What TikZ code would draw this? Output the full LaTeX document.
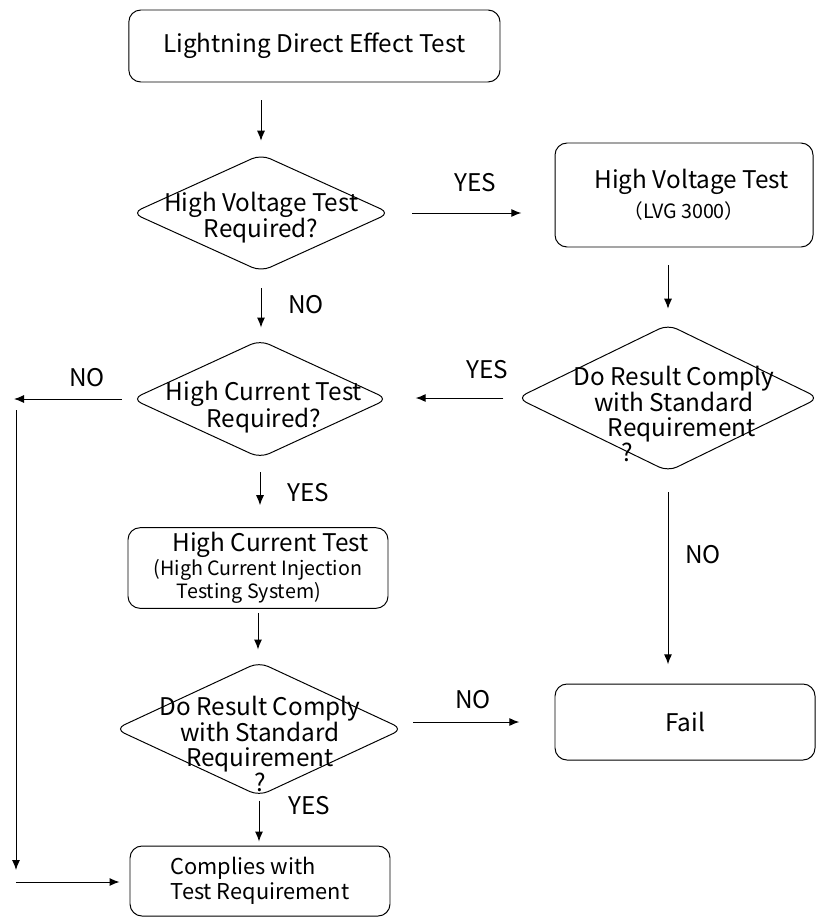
\documentclass[tikz,border=0pt]{standalone}
\usepackage{fontspec}
\newfontfamily\cjk{Noto Sans CJK SC}
\usetikzlibrary{shapes.geometric,arrows.meta,calc}
\newcommand{\bigtxt}{\cjk\fontsize{17.3}{17.7}\selectfont}
\newcommand{\midtxt}{\cjk\fontsize{15.5}{17.7}\selectfont}
\newcommand{\smalltxt}{\cjk\fontsize{14}{14}\selectfont}

\begin{document}
\begin{tikzpicture}[
    box/.style={draw, line width=0.7pt, rounded corners=0.3cm, minimum width=6.5cm, minimum height=1.8cm, align=center, font=\bigtxt},
    decision/.style={draw, diamond, line width=0.7pt, rounded corners=0.25cm, inner sep=0pt},
    dtext/.style={align=center, font=\bigtxt, inner sep=0pt},
    flow/.style={line width=0.7pt, -{Latex[length=2.5mm,width=2mm]}},
    lbl/.style={font=\bigtxt}
]
        \useasboundingbox (0,0) rectangle (20.45,-22.95);

        % boxes
        \node[box, minimum width=9.28cm] (start) at (7.86,-1.15) {Lightning Direct Effect Test};
        \node[box, minimum width=6.45cm, minimum height=2.6cm] (hv) at (17.1,-4.875)
            {\hspace*{11pt}High Voltage Test\\[4pt]{\smalltxt （LVG 3000）}};
        \node[box, minimum height=1.8cm] (hc) at (6.45,-14.2)
            {\hspace*{18pt}High Current Test\\[-1pt]{\smalltxt (High Current Injection\hspace*{13pt}}\\[-1pt]{\smalltxt Testing System)\hspace*{13pt}}};
        \node[box, minimum height=1.9cm] (fail) at (17.125,-18.05) {Fail};
        \node[box, minimum height=1.75cm, align=left, font=\midtxt] (comp) at (6.5,-22.025) {Complies with\\Test Requirement};

        % decisions
        \node[decision, minimum width=6.45cm, minimum height=2.93cm] (d1) at (6.525,-5.325) {};
        \node[decision, minimum width=7.55cm, minimum height=3.68cm] (d2) at (16.7,-9.95) {};
        \node[decision, minimum width=6.4cm, minimum height=2.95cm] (dhc) at (6.5,-9.975) {};
        \node[decision, minimum width=7.2cm, minimum height=3.35cm] (d3) at (6.475,-18.225) {};

        % decision texts
        \node[dtext] (d1txt) at (6.53,-5.44) {High Voltage Test\\Required?};
        \node[dtext] (dhctxt) at (6.6,-10.17) {High Current Test\\Required?};
        \node[dtext] (d2txt) at (16.85,-10.34) {Do Result Comply\\with Standard\\\hspace*{11pt}Requirement\\?\hspace*{67pt}};
        \node[dtext] (d3txt) at (6.5,-18.6) {Do Result Comply\\with Standard\\Requirement\\?};

        % arrows
        \draw[flow, shorten <=0.45cm, shorten >=0.33cm] (d1.north |- start.south) -- (d1.north);
        \draw[flow, shorten <=0.55cm, shorten >=0.83cm] (d1.east) -- (d1.east -| hv.west);
        \draw[flow, shorten <=0.45cm, shorten >=0.38cm] (hv.south -| d2.north) -- (d2.north);
        \draw[flow, shorten <=0.33cm, shorten >=0.68cm] (d2.west) -- (d2.west -| dhc.east);
        \draw[flow, shorten <=0.4cm, shorten >=0.3cm] (d1.south) -- (d1.south |- dhc.north);
        \draw[flow, shorten <=0.35cm, shorten >=0.55cm] (dhc.south) -- (dhc.south |- hc.north);
        \draw[flow, shorten <=0.1cm, shorten >=0.3cm] (hc.south) -- (hc.south |- d3.north);
        \draw[flow, shorten <=0.25cm, shorten >=0.88cm] (fail.west -| d3.east) -- (fail.west);
        \draw[flow, shorten <=0.5cm, shorten >=0.48cm] (d2.south) -- (d2.south |- fail.north);
        \draw[flow, shorten <=0.1cm, shorten >=0.1cm] (d3.south) -- (d3.south |- comp.north);

        % left side path
        \coordinate (noend) at (0.35,-10);
        \coordinate (sidetop) at (0.4,-10.25);
        \coordinate (sidebot) at (0.4,-21.75);
        \coordinate (sidein) at (0.4,-22.05);
        \draw[flow, shorten <=0.25cm] (dhc.west) -- (dhc.west -| noend);
        \draw[flow] (sidetop) -- (sidebot);
        \draw[flow, shorten >=0.25cm] (sidein) -- (sidein -| comp.west);

        % labels
        \node[lbl] (yes1) at (11.875,-4.575) {YES};
        \node[lbl] (no1) at (7.65,-7.625) {NO};
        \node[lbl] (yes2) at (12.175,-9.25) {YES};
        \node[lbl] (no2) at (2.175,-9.45) {NO};
        \node[lbl] (yes3) at (7.7,-12.325) {YES};
        \node[lbl] (no3) at (17.575,-13.875) {NO};
        \node[lbl] (no4) at (11.825,-17.5) {NO};
        \node[lbl] (yes4) at (7.725,-20.15) {YES};
\end{tikzpicture}
\end{document}
